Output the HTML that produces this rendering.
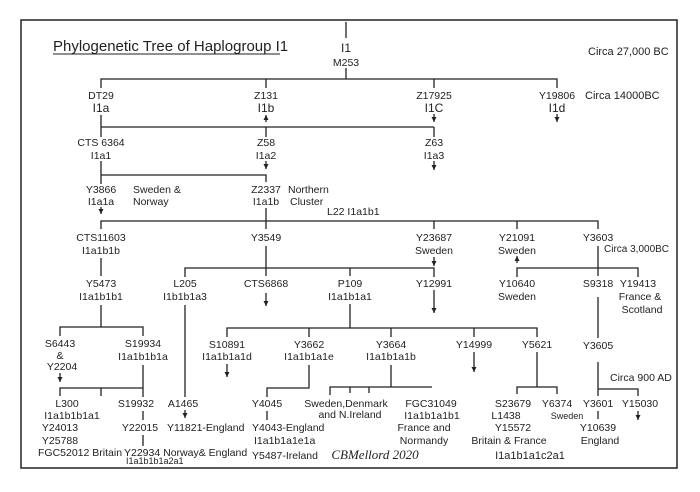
<!DOCTYPE html>
<html><head><meta charset="utf-8"><style>
html,body{margin:0;padding:0;background:#fff;}
svg{display:block;}
text{font-family:"Liberation Sans",sans-serif;font-size:10.5px;fill:#222;text-anchor:middle;letter-spacing:0;}
.l{text-anchor:start;}
.s{font-size:9px;}
line,polyline{stroke:#222;stroke-width:1.3;fill:none;}
</style></head><body>
<svg width="700" height="492" viewBox="0 0 700 492">
<defs><marker id="a" markerWidth="7" markerHeight="7" refX="5" refY="3" orient="auto" markerUnits="userSpaceOnUse"><path d="M0,0.5 L5,3 L0,5.5 Z" fill="#222"/></marker></defs>
<rect x="21" y="20" width="656" height="448" fill="none" stroke="#222" stroke-width="1.5"/>
<text class="l" x="53" y="51" style="font-size:15px">Phylogenetic Tree of Haplogroup I1</text>
<line x1="53" y1="54" x2="280" y2="54" style="stroke-width:1"/>
<text x="346" y="52" style="font-size:12px">I1</text><text x="346" y="66">M253</text>
<line x1="346" y1="22" x2="346" y2="38"/>
<text class="l" x="588" y="55" style="font-size:11px">Circa 27,000 BC</text>
<line x1="346" y1="68" x2="346" y2="79"/>
<polyline points="101,88 101,79 557,79 557,88"/>
<line x1="266" y1="79" x2="266" y2="88"/><line x1="434" y1="79" x2="434" y2="88"/>
<text x="101" y="99">DT29</text><text x="101" y="112" style="font-size:12px">I1a</text>
<text x="266" y="99">Z131</text><text x="266" y="112" style="font-size:12px">I1b</text>
<text x="434" y="99">Z17925</text><text x="434" y="112" style="font-size:12px">I1C</text>
<text x="557" y="99">Y19806</text><text x="557" y="112" style="font-size:12px">I1d</text>
<text class="l" x="585" y="99" style="font-size:11px">Circa 14000BC</text>
<line x1="557" y1="114" x2="557" y2="122" marker-end="url(#a)"/>
<line x1="266" y1="122" x2="266" y2="115" marker-end="url(#a)"/>
<line x1="434" y1="114" x2="434" y2="122" marker-end="url(#a)"/>
<line x1="101" y1="115" x2="101" y2="137"/>
<line x1="101" y1="127" x2="434" y2="127"/>
<line x1="266" y1="127" x2="266" y2="137"/><line x1="434" y1="127" x2="434" y2="137"/>
<text x="101" y="146">CTS 6364</text><text x="101" y="159">I1a1</text>
<text x="266" y="146">Z58</text><text x="266" y="159">I1a2</text>
<text x="434" y="146">Z63</text><text x="434" y="159">I1a3</text>
<line x1="266" y1="161" x2="266" y2="169" marker-end="url(#a)"/>
<line x1="434" y1="161" x2="434" y2="170" marker-end="url(#a)"/>
<polyline points="101,161 101,184"/>
<polyline points="101,175 266,175 266,182"/>
<text x="101" y="193">Y3866</text><text x="101" y="205">I1a1a</text>
<text class="l" x="133" y="193">Sweden &amp;</text><text class="l" x="133" y="205">Norway</text>
<line x1="101" y1="207" x2="101" y2="214" marker-end="url(#a)"/>
<text x="266" y="193">Z2337</text><text x="266" y="205">I1a1b</text>
<text class="l" x="288" y="193">Northern</text><text class="l" x="290" y="205">Cluster</text>
<text class="l" x="327" y="215">L22  I1a1b1</text>
<line x1="266" y1="208" x2="266" y2="221"/>
<polyline points="101,229 101,221 598,221 598,229"/>
<line x1="266" y1="221" x2="266" y2="229"/><line x1="434" y1="221" x2="434" y2="229"/><line x1="517" y1="221" x2="517" y2="229"/>
<text x="101" y="241">CTS11603</text><text x="101" y="254">I1a1b1b</text>
<text x="266" y="241">Y3549</text>
<text x="434" y="241">Y23687</text><text x="434" y="254">Sweden</text>
<text x="517" y="241">Y21091</text><text x="517" y="254">Sweden</text>
<text x="598" y="241">Y3603</text>
<text class="l" x="604" y="252" style="font-size:10px">Circa 3,000BC</text>
<line x1="434" y1="257" x2="434" y2="266" marker-end="url(#a)"/>
<line x1="517" y1="263" x2="517" y2="256" marker-end="url(#a)"/>
<line x1="266" y1="246" x2="266" y2="276"/>
<polyline points="185,277 185,268 434,268 434,277"/>
<line x1="350" y1="268" x2="350" y2="276"/>
<text x="185" y="287">L205</text><text x="185" y="300">I1b1b1a3</text>
<text x="266" y="287">CTS6868</text>
<line x1="266" y1="293" x2="266" y2="306" marker-end="url(#a)"/>
<text x="350" y="287">P109</text><text x="350" y="300">I1a1b1a1</text>
<text x="434" y="287">Y12991</text>
<line x1="434" y1="290" x2="434" y2="313" marker-end="url(#a)"/>
<line x1="598" y1="246" x2="598" y2="276"/>
<polyline points="517,277 517,268 638,268 638,277"/>
<text x="517" y="287">Y10640</text><text x="517" y="300">Sweden</text>
<text x="598" y="287">S9318</text>
<text x="638" y="287">Y19413</text><text x="640" y="300">France &amp;</text><text x="642" y="313">Scotland</text>
<line x1="598" y1="297" x2="598" y2="338"/>
<text x="598" y="349">Y3605</text>
<line x1="598" y1="362" x2="598" y2="396"/>
<text class="l" x="610" y="381" style="font-size:10.5px">Circa 900 AD</text>
<polyline points="598,389 638,389 638,396"/>
<text x="598" y="407">Y3601</text><text x="640" y="407">Y15030</text>
<line x1="638" y1="411" x2="638" y2="420" marker-end="url(#a)"/>
<line x1="598" y1="411" x2="598" y2="419"/>
<text x="598" y="431">Y10639</text><text x="600" y="444">England</text>
<line x1="350" y1="304" x2="350" y2="328"/>
<polyline points="227,337 227,328 537,328 537,337"/>
<line x1="309" y1="328" x2="309" y2="337"/><line x1="391" y1="328" x2="391" y2="337"/><line x1="474" y1="328" x2="474" y2="337"/>
<text x="227" y="348">S10891</text><text x="227" y="360">I1a1b1a1d</text>
<line x1="227" y1="364" x2="227" y2="377" marker-end="url(#a)"/>
<text x="309" y="348">Y3662</text><text x="309" y="360">I1a1b1a1e</text>
<text x="391" y="348">Y3664</text><text x="391" y="360">I1a1b1a1b</text>
<text x="474" y="348">Y14999</text>
<line x1="474" y1="352" x2="474" y2="372" marker-end="url(#a)"/>
<text x="537" y="348">Y5621</text>
<polyline points="309,365 309,388 267,388 267,397"/>
<text x="267" y="407">Y4045</text>
<line x1="267" y1="411" x2="267" y2="420"/>
<text class="l" x="252" y="431">Y4043-England</text>
<text class="l" x="254" y="444">I1a1b1a1e1a</text>
<text class="l" x="252" y="459">Y5487-Ireland</text>
<line x1="391" y1="365" x2="391" y2="387"/>
<polyline points="330,395 330,387 432,387"/>
<line x1="350" y1="387" x2="350" y2="393"/><line x1="369" y1="387" x2="369" y2="393"/>
<text x="346" y="407">Sweden,Denmark</text><text x="350" y="418">and N.Ireland</text>
<text x="431" y="407">FGC31049</text><text x="432" y="419">I1a1b1a1b1</text>
<text x="424" y="431">France  and</text><text x="424" y="444">Normandy</text>
<text x="375" y="459" style="font-family:'Liberation Serif',serif;font-style:italic;font-size:13px">CBMellord  2020</text>
<line x1="537" y1="352" x2="537" y2="387"/>
<polyline points="517,394 517,387 557,387 557,394"/>
<text x="513" y="407">S23679</text><text x="557" y="407">Y6374</text>
<text x="506" y="419">L1438</text><text x="567" y="419" class="s">Sweden</text>
<text x="513" y="431">Y15572</text><text x="509" y="444">Britain &amp; France</text>
<text x="530" y="459" style="font-size:11px">I1a1b1a1c2a1</text>
<line x1="101" y1="258" x2="101" y2="276"/>
<text x="101" y="287">Y5473</text><text x="101" y="300">I1a1b1b1</text>
<line x1="101" y1="305" x2="101" y2="327"/>
<polyline points="60,336 60,327 143,327 143,336"/>
<text x="60" y="347">S6443</text><text x="60" y="359">&amp;</text><text x="62" y="370">Y2204</text>
<line x1="60" y1="373" x2="60" y2="382" marker-end="url(#a)"/>
<text x="143" y="347">S19934</text><text x="143" y="360">I1a1b1b1a</text>
<polyline points="143,365 143,397"/>
<polyline points="60,396 60,388 143,388"/>
<line x1="101" y1="388" x2="101" y2="396"/>
<text x="67" y="407">L300</text><text x="72" y="419">I1a1b1b1a1</text>
<text x="60" y="431">Y24013</text><text x="60" y="444">Y25788</text>
<text x="136" y="407">S19932</text>
<line x1="143" y1="411" x2="143" y2="420"/>
<text x="140" y="431">Y22015</text>
<line x1="143" y1="435" x2="143" y2="446"/>
<text class="l" x="38" y="456">FGC52012 Britain</text>
<text class="l" x="124" y="456">Y22934  Norway&amp; England</text>
<text class="l s" x="126" y="464">I1a1b1b1a2a1</text>
<line x1="185" y1="305" x2="185" y2="397"/>
<text x="183" y="407">A1465</text>
<line x1="185" y1="410" x2="185" y2="418" marker-end="url(#a)"/>
<text class="l" x="167" y="431">Y11821-England</text>
</svg>
</body></html>
